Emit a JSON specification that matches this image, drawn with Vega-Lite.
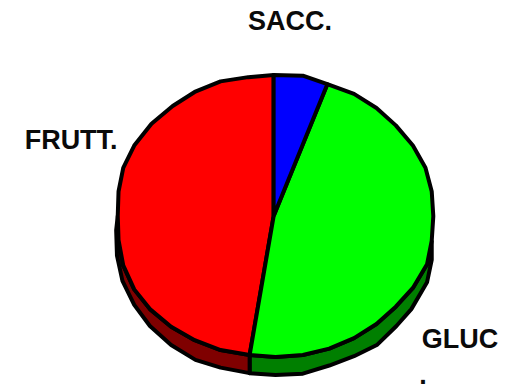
{
"$schema":"https://vega.github.io/schema/vega-lite/v6.json",
"width":506,"height":384,"padding":0,"autosize":"none","background":"white",
"config":{"view":{"stroke":null}},
"layer":[
{"data":{"values":[
{"s":"a","k":"Glucosio lato","n":1,"x":0.995,"y":-0.174},{"s":"a","k":"Glucosio lato","n":2,"x":0.965,"y":-0.342},{"s":"a","k":"Glucosio lato","n":3,"x":0.875,"y":-0.51},{"s":"a","k":"Glucosio lato","n":4,"x":0.766,"y":-0.643},{"s":"a","k":"Glucosio lato","n":5,"x":0.643,"y":-0.766},{"s":"a","k":"Glucosio lato","n":6,"x":0.5,"y":-0.866},{"s":"a","k":"Glucosio lato","n":7,"x":0.342,"y":-0.94},{"s":"a","k":"Glucosio lato","n":8,"x":0.174,"y":-0.985},{"s":"a","k":"Glucosio lato","n":9,"x":0,"y":-1},{"s":"a","k":"Glucosio lato","n":10,"x":-0.165,"y":-0.986},
{"s":"a","k":"Glucosio lato","n":11,"x":-0.165,"y":-1.114},{"s":"a","k":"Glucosio lato","n":12,"x":0,"y":-1.128},{"s":"a","k":"Glucosio lato","n":13,"x":0.174,"y":-1.118},{"s":"a","k":"Glucosio lato","n":14,"x":0.342,"y":-1.06},{"s":"a","k":"Glucosio lato","n":15,"x":0.5,"y":-0.994},{"s":"a","k":"Glucosio lato","n":16,"x":0.645,"y":-0.915},{"s":"a","k":"Glucosio lato","n":17,"x":0.77,"y":-0.78},{"s":"a","k":"Glucosio lato","n":18,"x":0.865,"y":-0.66},{"s":"a","k":"Glucosio lato","n":19,"x":0.965,"y":-0.47},{"s":"a","k":"Glucosio lato","n":20,"x":0.995,"y":-0.31},{"s":"a","k":"Glucosio lato","n":21,"x":0.995,"y":-0.174},

{"s":"b","k":"Fruttosio lato","n":1,"x":-0.165,"y":-0.986},{"s":"b","k":"Fruttosio lato","n":2,"x":-0.35,"y":-0.95},{"s":"b","k":"Fruttosio lato","n":3,"x":-0.515,"y":-0.88},{"s":"b","k":"Fruttosio lato","n":4,"x":-0.665,"y":-0.785},{"s":"b","k":"Fruttosio lato","n":5,"x":-0.8,"y":-0.66},{"s":"b","k":"Fruttosio lato","n":6,"x":-0.9,"y":-0.52},{"s":"b","k":"Fruttosio lato","n":7,"x":-0.97,"y":-0.35},{"s":"b","k":"Fruttosio lato","n":8,"x":-1,"y":-0.17},{"s":"b","k":"Fruttosio lato","n":9,"x":-1.005,"y":0},
{"s":"b","k":"Fruttosio lato","n":10,"x":-1.015,"y":-0.1},{"s":"b","k":"Fruttosio lato","n":11,"x":-1.01,"y":-0.28},{"s":"b","k":"Fruttosio lato","n":12,"x":-0.975,"y":-0.46},{"s":"b","k":"Fruttosio lato","n":13,"x":-0.9,"y":-0.63},{"s":"b","k":"Fruttosio lato","n":14,"x":-0.8,"y":-0.78},{"s":"b","k":"Fruttosio lato","n":15,"x":-0.665,"y":-0.915},{"s":"b","k":"Fruttosio lato","n":16,"x":-0.51,"y":-1.02},{"s":"b","k":"Fruttosio lato","n":17,"x":-0.35,"y":-1.075},{"s":"b","k":"Fruttosio lato","n":18,"x":-0.165,"y":-1.114},{"s":"b","k":"Fruttosio lato","n":19,"x":-0.165,"y":-0.986},

{"s":"c","k":"Fruttosio","n":1,"x":-0.012,"y":0},{"s":"c","k":"Fruttosio","n":2,"x":-0.165,"y":-0.986},{"s":"c","k":"Fruttosio","n":3,"x":-0.35,"y":-0.95},{"s":"c","k":"Fruttosio","n":4,"x":-0.515,"y":-0.88},{"s":"c","k":"Fruttosio","n":5,"x":-0.665,"y":-0.785},{"s":"c","k":"Fruttosio","n":6,"x":-0.8,"y":-0.66},{"s":"c","k":"Fruttosio","n":7,"x":-0.9,"y":-0.52},{"s":"c","k":"Fruttosio","n":8,"x":-0.97,"y":-0.35},{"s":"c","k":"Fruttosio","n":9,"x":-1,"y":-0.17},{"s":"c","k":"Fruttosio","n":10,"x":-1.005,"y":0},{"s":"c","k":"Fruttosio","n":11,"x":-1,"y":0.174},{"s":"c","k":"Fruttosio","n":12,"x":-0.97,"y":0.342},{"s":"c","k":"Fruttosio","n":13,"x":-0.9,"y":0.5},{"s":"c","k":"Fruttosio","n":14,"x":-0.79,"y":0.655},{"s":"c","k":"Fruttosio","n":15,"x":-0.655,"y":0.78},{"s":"c","k":"Fruttosio","n":16,"x":-0.515,"y":0.88},{"s":"c","k":"Fruttosio","n":17,"x":-0.35,"y":0.955},{"s":"c","k":"Fruttosio","n":18,"x":-0.174,"y":0.985},{"s":"c","k":"Fruttosio","n":19,"x":-0.012,"y":1},{"s":"c","k":"Fruttosio","n":20,"x":-0.012,"y":0},

{"s":"d","k":"Glucosio","n":1,"x":-0.012,"y":0},{"s":"d","k":"Glucosio","n":2,"x":0.33,"y":0.935},{"s":"d","k":"Glucosio","n":3,"x":0.5,"y":0.866},{"s":"d","k":"Glucosio","n":4,"x":0.643,"y":0.766},{"s":"d","k":"Glucosio","n":5,"x":0.766,"y":0.643},{"s":"d","k":"Glucosio","n":6,"x":0.875,"y":0.5},{"s":"d","k":"Glucosio","n":7,"x":0.955,"y":0.342},{"s":"d","k":"Glucosio","n":8,"x":0.995,"y":0.174},{"s":"d","k":"Glucosio","n":9,"x":1.005,"y":0},{"s":"d","k":"Glucosio","n":10,"x":0.995,"y":-0.174},{"s":"d","k":"Glucosio","n":11,"x":0.965,"y":-0.342},{"s":"d","k":"Glucosio","n":12,"x":0.875,"y":-0.51},{"s":"d","k":"Glucosio","n":13,"x":0.766,"y":-0.643},{"s":"d","k":"Glucosio","n":14,"x":0.643,"y":-0.766},{"s":"d","k":"Glucosio","n":15,"x":0.5,"y":-0.866},{"s":"d","k":"Glucosio","n":16,"x":0.342,"y":-0.94},{"s":"d","k":"Glucosio","n":17,"x":0.174,"y":-0.985},{"s":"d","k":"Glucosio","n":18,"x":0,"y":-1},{"s":"d","k":"Glucosio","n":19,"x":-0.165,"y":-0.986},{"s":"d","k":"Glucosio","n":20,"x":-0.012,"y":0},

{"s":"e","k":"Saccarosio","n":1,"x":-0.012,"y":0},{"s":"e","k":"Saccarosio","n":2,"x":-0.012,"y":1},{"s":"e","k":"Saccarosio","n":3,"x":0.174,"y":0.995},{"s":"e","k":"Saccarosio","n":4,"x":0.33,"y":0.935},{"s":"e","k":"Saccarosio","n":5,"x":-0.012,"y":0}
]},
"mark":{"type":"line","stroke":"black","strokeWidth":4,"strokeJoin":"round","clip":false,"interpolate":"linear"},
"encoding":{
"x":{"field":"x","type":"quantitative","scale":{"domain":[-1.755,1.468],"nice":false,"zero":false},"axis":null},
"y":{"field":"y","type":"quantitative","scale":{"domain":[-1.191,1.532],"nice":false,"zero":false},"axis":null},
"order":{"field":"n","type":"quantitative"},
"detail":{"field":"s"},
"fill":{"field":"k","type":"nominal","legend":null,"scale":{"domain":["Glucosio lato","Fruttosio lato","Fruttosio","Glucosio","Saccarosio"],"range":["#007f00","#7f0000","#ff0000","#00ff00","#0000ff"]}}
}},
{"data":{"values":[
{"t":"SACC.","x":0.092,"y":1.376},
{"t":"FRUTT.","x":-1.302,"y":0.532},
{"t":"GLUC","x":1.175,"y":-0.879},
{"t":".","x":0.939,"y":-1.131}
]},
"mark":{"type":"text","font":"Liberation Sans","fontWeight":"bold","fontSize":27,"align":"center","baseline":"middle","color":"#0a0a0a","clip":false},
"encoding":{
"x":{"field":"x","type":"quantitative","scale":{"domain":[-1.755,1.468],"nice":false,"zero":false},"axis":null},
"y":{"field":"y","type":"quantitative","scale":{"domain":[-1.191,1.532],"nice":false,"zero":false},"axis":null},
"text":{"field":"t"}
}}
]
}
